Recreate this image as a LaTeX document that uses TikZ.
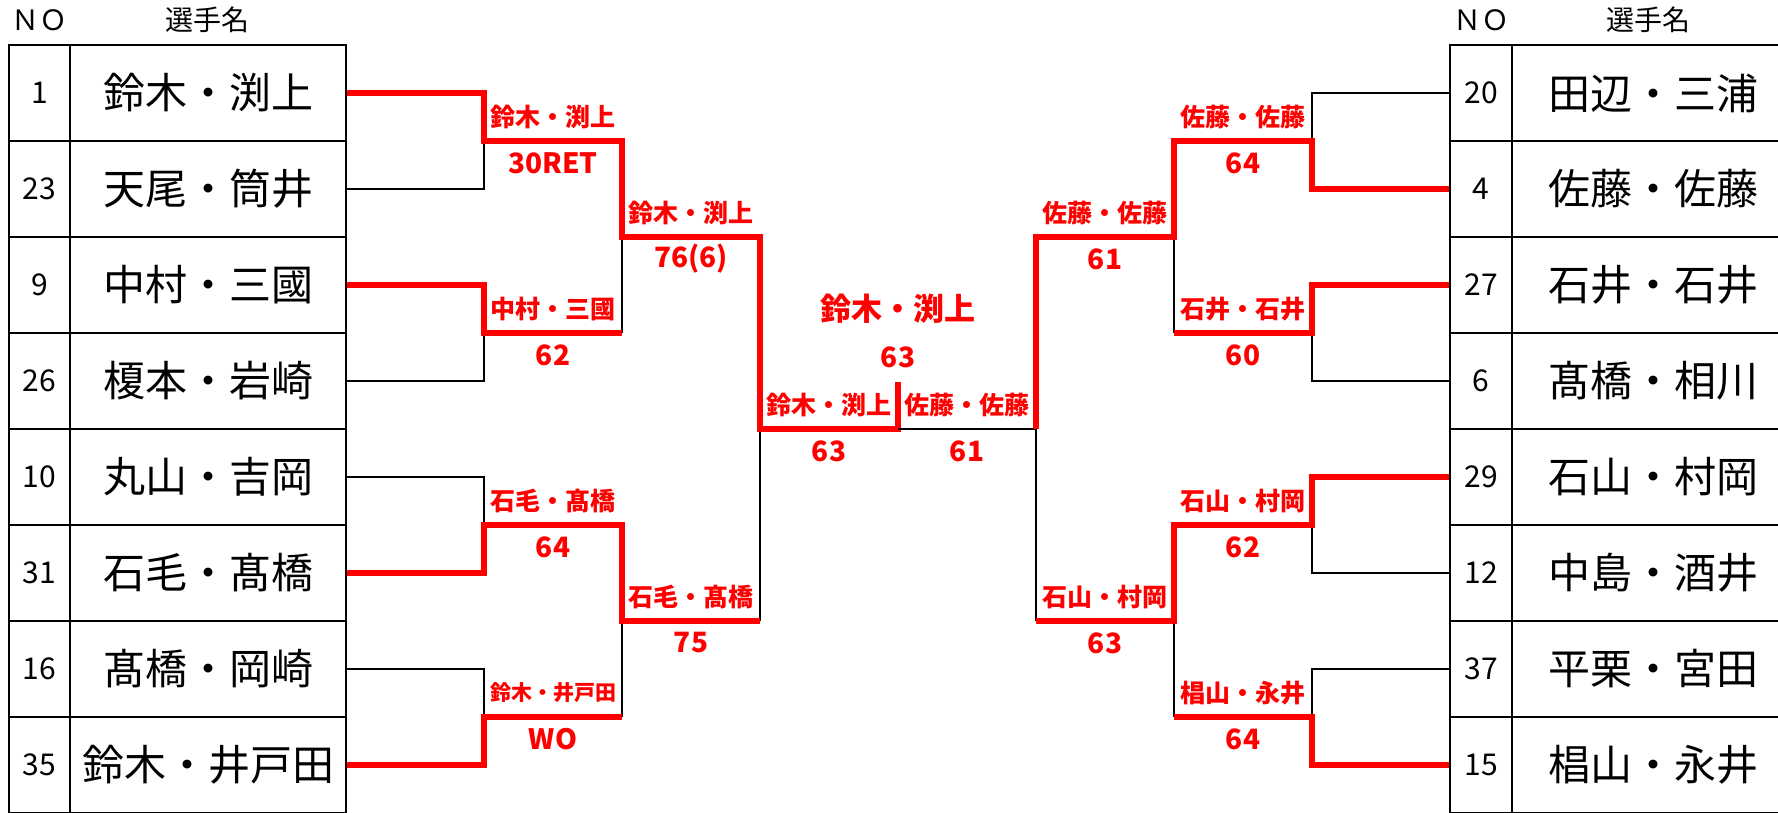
\documentclass[tikz,border=0pt]{standalone}
\usepackage{fontspec}
\setmainfont{Noto Sans CJK JP}

\begin{document}
\begin{tikzpicture}[x=1pt,y=-1pt,
  cell/.style={draw,line width=1.5pt,minimum height=96pt,inner sep=0pt},
  nocell/.style={cell,minimum width=61pt,font=\fontsize{30}{30}\selectfont},
  namecell/.style={cell,minimum width=276pt,font=\fontsize{42}{42}\selectfont},
  head/.style={font=\fontsize{28}{28}\selectfont},
  win/.style={text=red,inner sep=0pt,font=\bfseries\fontsize{25}{25}\selectfont},
  score/.style={text=red,inner sep=0pt,font=\bfseries\fontsize{28}{28}\selectfont},
  won/.style={red,line width=6pt},
  lost/.style={black,line width=1.5pt}]
\clip (0,0) rectangle (1778,813);

% headers
\node[head] (hLno) at (40,20) {ＮＯ};
\node[head] (hLname) at (207,20) {選手名};
\node[head] (hRno) at (1481,20) {ＮＯ};
\node[head] (hRname) at (1648,20) {選手名};

% left table
\foreach \no/\name [count=\i] in {1/鈴木・渕上,23/天尾・筒井,9/中村・三國,26/榎本・岩崎,
    10/丸山・吉岡,31/石毛・髙橋,16/髙橋・岡崎,35/鈴木・井戸田} {
  \node[nocell] (Ln\i) at (39.5,{96*\i-3}) {\no};
  \node[namecell] (L\i) at (208,{96*\i-3}) {\name};
}
% right table
\foreach \no/\name [count=\i] in {20/田辺・三浦,4/佐藤・佐藤,27/石井・石井,6/髙橋・相川,
    29/石山・村岡,12/中島・酒井,37/平栗・宮田,15/椙山・永井} {
  \node[nocell,minimum width=62pt] (Rn\i) at (1481,{96*\i-3}) {\no};
  \node[namecell,minimum width=282pt] (R\i) at (1653,{96*\i-3}) {\name};
}

% bracket points
\coordinate (a1) at (484,141);
\coordinate (a2) at (484,333);
\coordinate (a3) at (484,525);
\coordinate (a4) at (484,717);
\coordinate (b1) at (622,237);
\coordinate (b2) at (622,621);
\coordinate (c1) at (760,429);
\coordinate (f) at (898,429);
\coordinate (ftop) at (898,382);
\coordinate (d1) at (1312,141);
\coordinate (d2) at (1312,333);
\coordinate (d3) at (1312,525);
\coordinate (d4) at (1312,717);
\coordinate (e1) at (1174,237);
\coordinate (e2) at (1174,621);
\coordinate (g1) at (1036,429);

% left side
\draw[lost] (L2.east) -| (a1);
\draw[lost] (L4.east) -| (a2);
\draw[lost] (a2 -| b1) -- (b1);
\draw[lost] (L5.east) -| (a3);
\draw[lost] (L7.east) -| (a4);
\draw[lost] (a4 -| b2) -- (b2);
\draw[lost] (b2 -| c1) -- (c1);
\draw[won] (L1.east) -| (a1) -| (b1) -| (c1) -- (f) -- (ftop);
\draw[won] (L3.east) -| (a2) -- (a2 -| b1);
\draw[won] (L6.east) -| (a3) -| (b2) -- (b2 -| c1);
\draw[won] (L8.east) -| (a4) -- (a4 -| b2);

% right side
\draw[lost] (Rn1.west) -| (d1);
\draw[lost] (Rn4.west) -| (d2);
\draw[lost] (d2 -| e1) -- (e1);
\draw[lost] (Rn6.west) -| (d3);
\draw[lost] (Rn7.west) -| (d4);
\draw[lost] (d4 -| e2) -- (e2);
\draw[lost] (e2 -| g1) -- (g1) -- (f);
\draw[won] (Rn2.west) -| (d1) -| (e1) -| (g1);
\draw[won] (Rn3.west) -| (d2) -- (d2 -| e1);
\draw[won] (Rn5.west) -| (d3) -| (e2) -- (e2 -| g1);
\draw[won] (Rn8.west) -| (d4) -- (d4 -| e2);

% winners and scores
\node[win] (w1) at (553,117) {鈴木・渕上};
\node[score] (s1) at (553,163) {30RET};
\node[win] (w2) at (553,309) {中村・三國};
\node[score] (s2) at (553,355) {62};
\node[win] (w3) at (553,501) {石毛・髙橋};
\node[score] (s3) at (553,547) {64};
\node[win,font=\bfseries\fontsize{21}{21}\selectfont] (w4) at (553,693) {鈴木・井戸田};
\node[score] (s4) at (553,739) {WO};
\node[win] (w5) at (691,213) {鈴木・渕上};
\node[score] (s5) at (691,259) {76(6)};
\node[win] (w6) at (691,597) {石毛・髙橋};
\node[score] (s6) at (691,643) {75};
\node[win] (w7) at (829,405) {鈴木・渕上};
\node[score] (s7) at (829,451) {63};
\node[win,font=\bfseries\fontsize{31}{31}\selectfont] (champ) at (898,309) {鈴木・渕上};
\node[score] (schamp) at (898,357) {63};
\node[win] (v7) at (967,405) {佐藤・佐藤};
\node[score] (t7) at (967,451) {61};
\node[win] (v5) at (1105,213) {佐藤・佐藤};
\node[score] (t5) at (1105,259) {61};
\node[win] (v6) at (1105,597) {石山・村岡};
\node[score] (t6) at (1105,643) {63};
\node[win] (v1) at (1243,117) {佐藤・佐藤};
\node[score] (t1) at (1243,163) {64};
\node[win] (v2) at (1243,309) {石井・石井};
\node[score] (t2) at (1243,355) {60};
\node[win] (v3) at (1243,501) {石山・村岡};
\node[score] (t3) at (1243,547) {62};
\node[win] (v4) at (1243,693) {椙山・永井};
\node[score] (t4) at (1243,739) {64};
\end{tikzpicture}
\end{document}
